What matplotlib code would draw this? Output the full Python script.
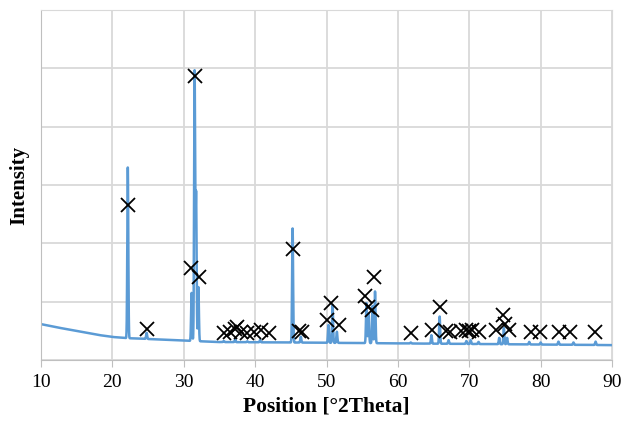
import numpy as np
import matplotlib
matplotlib.use('Agg')
import matplotlib.pyplot as plt

# baseline of the scan (read at a few angles)
base_2theta = [10, 12, 14, 16, 18, 20, 22, 25, 30, 35, 45, 60, 75, 90]
base_int = [1230, 1130, 1040, 950, 860, 790, 750, 720, 665, 615, 600, 570, 540, 510]

# peak positions and peak-top intensities
peak_2theta = [22.16, 24.8, 31.1, 31.52, 31.73, 32.05, 35.6, 37.2, 38.9, 40.7,
               45.25, 46.4, 50.28, 50.85, 51.45, 55.6, 55.9, 56.45, 56.8,
               61.8, 64.7, 65.85, 67.1, 69.6, 70.2, 71.3, 74.2, 74.85, 75.3,
               78.4, 80.0, 82.5, 84.6, 87.7]
peak_top = [6600, 930, 2300, 9880, 5700, 2500, 650, 700, 640, 680,
            4510, 800, 1200, 1890, 970, 1950, 1600, 1850, 2350,
            600, 850, 1490, 680, 650, 680, 620, 760, 1100, 760,
            620, 600, 630, 600, 630]

# reference pattern markers (X)
ref_2theta = [22.16, 24.8, 30.98, 31.52, 32.1, 35.6, 36.5, 37.2, 37.5, 38.0,
              38.9, 39.8, 40.8, 41.9, 45.25, 46.1, 46.5, 50.0, 50.67, 51.73,
              55.44, 55.8, 56.43, 56.6, 61.77, 64.8, 65.87, 66.7, 67.3, 68.8,
              69.5, 69.95, 70.4, 71.36, 73.8, 74.75, 75.0, 75.5, 78.6, 79.9,
              82.6, 84.1, 87.6]
ref_int = [5315, 1063, 3143, 9737, 2857, 914, 970, 1080, 1143, 970,
           914, 970, 1029, 914, 3794, 1000, 970, 1371, 1966, 1200,
           2194, 1829, 1714, 2834, 914, 1029, 1829, 1000, 971, 1000,
           1029, 1000, 1029, 971, 1029, 1543, 1230, 1029, 971, 971,
           971, 971, 971]

# build the scan line: baseline + narrow peaks
tt = np.arange(10, 90.001, 0.01)
scan = np.interp(tt, base_2theta, base_int)
sig = 0.07
for p, h in zip(peak_2theta, peak_top):
    amp = h - np.interp(p, base_2theta, base_int)
    scan = scan + amp * np.exp(-0.5 * ((tt - p) / sig) ** 2)

plt.rcParams['font.family'] = ['Liberation Serif', 'DejaVu Serif']

fig = plt.figure(figsize=(6.23, 4.26), dpi=100)
ax = fig.add_axes([41 / 623, 66 / 426, 571 / 623, 350 / 426])

ax.plot(tt, scan, color='#5B9BD5', lw=1.8, zorder=2)
ax.plot(ref_2theta, ref_int, ls='none', marker='x', color='black',
        markersize=10, mew=1.3, zorder=3)

ax.set_xlim(10, 90)
ax.set_ylim(0, 12000)
ax.set_xticks(np.arange(10, 91, 10))
ax.set_yticks(np.arange(0, 12001, 2000))
ax.set_yticklabels([])
ax.grid(True, color='#D9D9D9', lw=1.3, zorder=0)
ax.set_axisbelow(True)

for s in ['top', 'right']:
    ax.spines[s].set_color('#D9D9D9')
for s in ['left', 'bottom']:
    ax.spines[s].set_color('#BFBFBF')
ax.tick_params(axis='x', length=5, color='#BFBFBF', labelsize=14, pad=5)
ax.tick_params(axis='y', length=0)

ax.set_xlabel('Position [°2Theta]', fontsize=15.5, fontweight='bold', labelpad=4)
ax.set_ylabel('Intensity', fontsize=15, fontweight='bold', labelpad=5)

fig.savefig('out.png', dpi=100)
